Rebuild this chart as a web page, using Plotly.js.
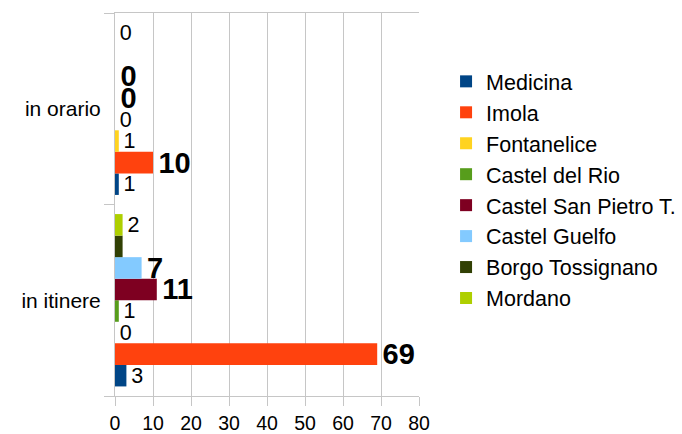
<!DOCTYPE html>
<html>
<head>
<meta charset="utf-8">
<script src="https://cdn.plot.ly/plotly-3.0.1.min.js"></script>
<style>html,body{margin:0;padding:0;background:#fff}</style>
</head>
<body>
<div id="chart" style="width:682px;height:434px"></div>
<script>
const categories = ['in itinere', 'in orario'];
const seriesNames = ['Medicina', 'Imola', 'Fontanelice', 'Castel del Rio', 'Castel San Pietro T.', 'Castel Guelfo', 'Borgo Tossignano', 'Mordano'];
const medicina = [3, 1];
const imola = [69, 10];
const fontanelice = [0, 1];
const castelDelRio = [1, 0];
const castelSanPietro = [11, 0];
const castelGuelfo = [7, 0];
const borgoTossignano = [2, 0];
const mordano = [2, 0];
const xTicks = [0, 10, 20, 30, 40, 50, 60, 70, 80];

const seriesValues = [medicina, imola, fontanelice, castelDelRio, castelSanPietro, castelGuelfo, borgoTossignano, mordano];
const colors = ['#004586', '#ff420e', '#ffd320', '#579d1c', '#7e0021', '#83caff', '#314004', '#aecf00'];
const labelStyle = ['normal', 'bold', 'normal', 'normal', 'bold', 'bold', 'none', 'normal'];
const FONT = '"Liberation Sans", Arial, sans-serif';

const traces = seriesValues.map((vals, i) => ({
  type: 'bar',
  orientation: 'h',
  name: seriesNames[i],
  y: categories,
  x: vals,
  marker: {color: colors[i], line: {width: 0}},
  text: vals.map(v => (v == null || labelStyle[i] === 'none') ? '' : '\u200A' + v),
  textposition: 'outside',
  constraintext: 'none',
  cliponaxis: false,
  textfont: labelStyle[i] === 'bold'
    ? {family: FONT, size: 29, color: '#000', weight: 'bold'}
    : {family: FONT, size: 21.5, color: '#000'},
  hoverinfo: 'x+name'
}));

const layout = {
  width: 682,
  height: 434,
  margin: {l: 115, r: 263, t: 13, b: 38, autoexpand: false},
  paper_bgcolor: '#fff',
  plot_bgcolor: '#fff',
  barmode: 'group',
  bargap: 0.1,
  bargroupgap: 0,
  font: {family: FONT, size: 20, color: '#000'},
  xaxis: {
    range: [0, 80],
    tickvals: xTicks,
    ticktext: xTicks.map(String),
    showgrid: true,
    gridcolor: '#c6c6c6',
    gridwidth: 1,
    zeroline: false,
    showline: true,
    linecolor: '#c6c6c6',
    mirror: true,
    ticks: 'outside',
    ticklen: 9,
    tickcolor: '#c6c6c6',
    ticklabelstandoff: 1,
    tickfont: {family: FONT, size: 19.5, color: '#000'},
    fixedrange: true
  },
  yaxis: {
    type: 'category',
    categoryorder: 'array',
    categoryarray: categories,
    showgrid: false,
    zeroline: false,
    showline: true,
    linecolor: '#c6c6c6',
    ticks: 'outside',
    tickson: 'boundaries',
    ticklen: 10,
    tickcolor: '#c6c6c6',
    ticklabelstandoff: 9,
    tickfont: {family: FONT, size: 21, color: '#000'},
    fixedrange: true
  },
  legend: {
    x: 1.089,
    xanchor: 'left',
    y: 0.875,
    yanchor: 'top',
    traceorder: 'normal',
    font: {family: FONT, size: 21.5, color: '#000'},
    bgcolor: 'rgba(0,0,0,0)'
  },
  showlegend: true
};

Plotly.newPlot('chart', traces, layout, {displayModeBar: false, staticPlot: true});
</script>
</body>
</html>
